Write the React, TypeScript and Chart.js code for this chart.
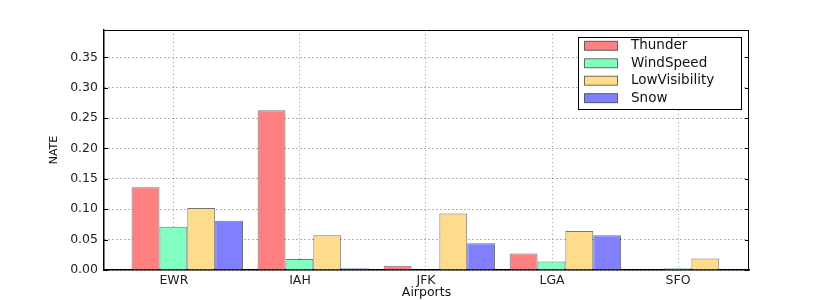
import React, { useEffect, useRef } from "react";
import { Chart, registerables } from "chart.js";

Chart.register(...registerables);

const categories = ["EWR", "IAH", "JFK", "LGA", "SFO"];
const seriesNames = ["Thunder", "WindSpeed", "LowVisibility", "Snow"];
const thunder = [0.136, 0.263, 0.007, 0.027, 0];
const windSpeed = [0.071, 0.018, 0.001, 0.014, 0.003];
const lowVisibility = [0.102, 0.057, 0.093, 0.064, 0.019];
const snow = [0.081, 0.003, 0.044, 0.057, 0];
const yTicks = [0, 0.05, 0.1, 0.15, 0.2, 0.25, 0.3, 0.35];

const fills = ["#ff8080", "#80ffc0", "#ffdc8c", "#8080ff"];
const edge = "rgba(0,0,0,0.55)";
const FONT = "'DejaVu Sans', sans-serif";
const GROUP_SHIFT = 0.106;

const framePlugin = {
  id: "frame",
  afterDraw(chart: any) {
    const { ctx, chartArea } = chart;
    const { left, right, top, bottom } = chartArea;
    ctx.save();
    ctx.strokeStyle = "#000";
    ctx.lineWidth = 1;
    ctx.beginPath();
    ctx.moveTo(left, top + 0.5);
    ctx.lineTo(right, top + 0.5);
    ctx.moveTo(right - 0.5, top);
    ctx.lineTo(right - 0.5, bottom);
    ctx.stroke();
    const ys = chart.scales.y;
    ctx.beginPath();
    ys.ticks.forEach((t: any) => {
      const py = Math.round(ys.getPixelForValue(t.value)) + 0.5;
      ctx.moveTo(left, py);
      ctx.lineTo(left + 4, py);
      ctx.moveTo(right, py);
      ctx.lineTo(right - 4, py);
    });
    ctx.stroke();

    const bx = 578.5, by = 37.5, bw = 163, bh = 72;
    ctx.fillStyle = "#fff";
    ctx.fillRect(bx, by, bw, bh);
    ctx.strokeStyle = "#000";
    ctx.lineWidth = 1;
    ctx.strokeRect(bx, by, bw, bh);
    ctx.font = `13.5px ${FONT}`;
    ctx.textBaseline = "middle";
    ctx.textAlign = "left";
    chart.data.datasets.forEach((ds: any, i: number) => {
      const cy = 45.8 + i * 17.45;
      ctx.fillStyle = ds.backgroundColor;
      ctx.fillRect(584.5, cy - 4.5, 33, 9);
      ctx.strokeStyle = edge;
      ctx.strokeRect(584.5, cy - 4.5, 33, 9);
      ctx.fillStyle = "#111";
      ctx.fillText(ds.label, 631, cy);
    });
    ctx.restore();
  },
};

export default function App() {
  const ref = useRef<HTMLCanvasElement | null>(null);

  useEffect(() => {
    if (!ref.current) return;
    const seriesValues = [thunder, windSpeed, lowVisibility, snow];
    const chart = new Chart(ref.current, {
      type: "bar",
      data: {
        datasets: seriesValues.map((vals, k) => ({
          label: seriesNames[k],
          data: vals.map((v, i) => ({ x: i + GROUP_SHIFT, y: v })),
          backgroundColor: fills[k],
          borderColor: edge,
          borderWidth: 1,
          categoryPercentage: 0.884,
          barPercentage: 1.0,
        })),
      },
      options: {
        animation: false,
        responsive: true,
        maintainAspectRatio: false,
        layout: { padding: { left: 0, right: 81, top: 30, bottom: 0 } },
        plugins: {
          legend: { display: false },
          tooltip: { enabled: false },
        },
        scales: {
          x: {
            type: "linear",
            min: -0.555,
            max: 4.563,
            offset: false,
            afterBuildTicks: (scale: any) => {
              scale.ticks = categories.map((_, i) => ({ value: i }));
            },
            afterFit: (scale: any) => {
              scale.height = 30;
            },
            ticks: {
              callback: (v: any) => categories[Math.round(Number(v))] ?? "",
              font: { family: FONT, size: 12.5 },
              color: "#222",
              padding: 3,
              maxRotation: 0,
              autoSkip: false,
            },
            grid: {
              offset: false,
              drawTicks: false,
              color: "rgba(0,0,0,0.38)",
              lineWidth: 1,
            },
            border: { display: true, color: "#000", width: 1.5, dash: [1, 3] },
            title: {
              display: true,
              text: "Airports",
              font: { family: FONT, size: 12.5 },
              color: "#111",
              padding: { top: 0, bottom: 0 },
            },
          },
          y: {
            type: "linear",
            min: 0,
            max: 0.395,
            afterBuildTicks: (scale: any) => {
              scale.ticks = yTicks.map((v) => ({ value: v }));
            },
            afterFit: (scale: any) => {
              scale.width = 104;
            },
            ticks: {
              callback: (v: any) => Number(v).toFixed(2),
              font: { family: FONT, size: 12.5 },
              color: "#222",
              padding: 6,
            },
            grid: {
              drawTicks: false,
              color: "rgba(0,0,0,0.6)",
              lineWidth: 1,
            },
            border: { display: true, color: "#000", width: 1.5, dash: [1, 3] },
            title: {
              display: true,
              text: "NATE",
              font: { family: FONT, size: 11 },
              color: "#111",
              padding: { top: 48, bottom: 0 },
            },
          },
        },
      },
      plugins: [framePlugin],
    } as any);
    return () => chart.destroy();
  }, []);

  return (
    <div style={{ position: "fixed", left: 0, top: 0, width: 830, height: 300, background: "#fff" }}>
      <canvas ref={ref} />
    </div>
  );
}
